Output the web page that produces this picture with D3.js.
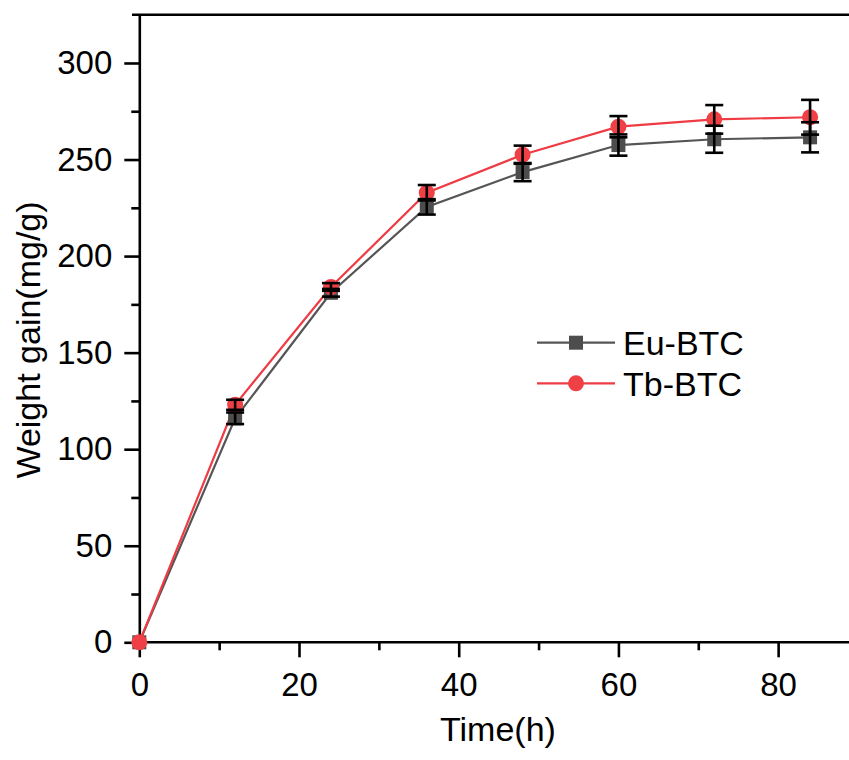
<!DOCTYPE html>
<html lang="en">
<head>
    <meta charset="UTF-8">
    <title>Weight gain vs time</title>
    <script src="https://d3js.org/d3.v7.min.js"></script>
    <style>
        body { margin: 0; background: #fff; }
        svg { display: block; font-family: "Liberation Sans", Arial, sans-serif; }
        .axis path, .axis line { stroke: #000; stroke-width: 2.6; }
        .axis text { font-size: 33px; fill: #000; }
        .title { font-size: 34px; fill: #000; }
    </style>
</head>
<body>
    <svg id="chart" width="849" height="760"></svg>
    <script>
        // data
        const times = [0, 12, 24, 36, 48, 60, 72, 84];
        const euValues = [0, 116, 181, 225.5, 243.5, 257.5, 260.5, 261.5];
        const euErrors = [0, 3, 2, 4, 4.7, 5.5, 7, 7.8];
        const tbValues = [0, 123, 184, 232.8, 252.5, 267, 270.8, 271.9];
        const tbErrors = [0, 2.6, 2, 4, 4.7, 5.5, 7.4, 9];
        const xTicks = [0, 20, 40, 60, 80];
        const yTicks = [0, 50, 100, 150, 200, 250, 300];
        const seriesNames = ["Eu-BTC", "Tb-BTC"];

        const svg = d3.select("#chart");
        const x = d3.scaleLinear().domain([0, 88.8]).range([139.3, 848.4]);
        const y = d3.scaleLinear().domain([0, 325]).range([642.3, 14.7]);

        const series = [
            { name: seriesNames[0], values: euValues, errors: euErrors, line: "#555555", fill: "#4d4d4d", shape: "square" },
            { name: seriesNames[1], values: tbValues, errors: tbErrors, line: "#ef3b43", fill: "#ef4046", shape: "circle" }
        ];

        // minor ticks
        const xMinor = d3.range(10, 90, 20);
        const yMinor = d3.range(25, 325, 50);
        svg.append("g").attr("class", "axis")
            .attr("transform", `translate(0,${y(0)})`)
            .call(d3.axisBottom(x).tickValues(xMinor).tickSize(8).tickFormat(""))
            .call(g => g.select(".domain").remove());
        svg.append("g").attr("class", "axis")
            .attr("transform", `translate(${x(0)},0)`)
            .call(d3.axisLeft(y).tickValues(yMinor).tickSize(8).tickFormat(""))
            .call(g => g.select(".domain").remove());

        // main axes
        const xAxis = svg.append("g").attr("class", "axis")
            .attr("transform", `translate(0,${y(0)})`)
            .call(d3.axisBottom(x).tickValues(xTicks).tickSize(15).tickSizeOuter(0).tickPadding(15));
        xAxis.select(".domain").attr("d", `M${x(0)},0H849`);

        const yAxis = svg.append("g").attr("class", "axis")
            .attr("transform", `translate(${x(0)},0)`)
            .call(d3.axisLeft(y).tickValues(yTicks).tickSize(15).tickSizeOuter(0).tickPadding(12));

        // top frame line
        svg.append("line")
            .attr("x1", 132).attr("x2", 849)
            .attr("y1", y(325)).attr("y2", y(325))
            .attr("stroke", "#000").attr("stroke-width", 2.6);

        // axis titles
        svg.append("text").attr("class", "title")
            .attr("x", 498).attr("y", 741)
            .attr("text-anchor", "middle")
            .text("Time(h)");
        svg.append("text").attr("class", "title")
            .attr("transform", "translate(40,340) rotate(-90)")
            .attr("text-anchor", "middle")
            .text("Weight gain(mg/g)");

        const line = d3.line().x((d, i) => x(times[i])).y(d => y(d));

        // lines
        series.forEach(s => {
            svg.append("path")
                .attr("d", line(s.values))
                .attr("fill", "none")
                .attr("stroke", s.line)
                .attr("stroke-width", 2.2);
        });

        function drawMarker(g, s, cx, cy) {
            if (s.shape === "square") {
                g.append("rect")
                    .attr("x", cx - 7).attr("y", cy - 7)
                    .attr("width", 14).attr("height", 14)
                    .attr("fill", s.fill);
            } else {
                g.append("circle")
                    .attr("cx", cx).attr("cy", cy).attr("r", 8)
                    .attr("fill", s.fill);
            }
        }

        // markers
        series.forEach(s => {
            const g = svg.append("g");
            s.values.forEach((v, i) => drawMarker(g, s, x(times[i]), y(v)));
        });

        // error bars
        series.forEach(s => {
            const g = svg.append("g").attr("stroke", "#000").attr("stroke-width", 2.6);
            s.values.forEach((v, i) => {
                const e = s.errors[i];
                if (e <= 0) return;
                const cx = x(times[i]);
                g.append("line").attr("x1", cx).attr("x2", cx)
                    .attr("y1", y(v + e)).attr("y2", y(v - e));
                [v + e, v - e].forEach(c => {
                    g.append("line").attr("x1", cx - 9).attr("x2", cx + 9)
                        .attr("y1", y(c)).attr("y2", y(c));
                });
            });
        });

        // legend
        const legendY = [342.7, 383.3];
        series.forEach((s, i) => {
            const g = svg.append("g");
            g.append("line")
                .attr("x1", 537).attr("x2", 615)
                .attr("y1", legendY[i]).attr("y2", legendY[i])
                .attr("stroke", s.line).attr("stroke-width", 2.2);
            drawMarker(g, s, 576, legendY[i]);
            g.append("text").attr("class", "title")
                .attr("x", 623).attr("y", legendY[i])
                .attr("dy", "0.36em")
                .text(s.name);
        });
    </script>
</body>
</html>
